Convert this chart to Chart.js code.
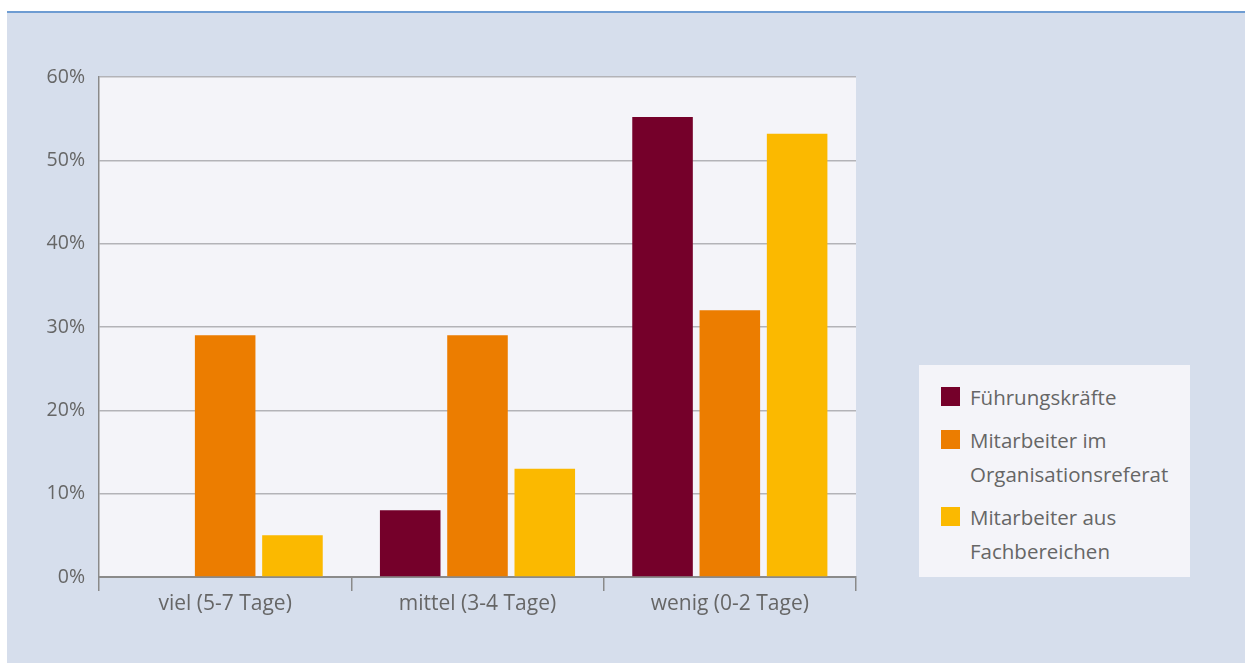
<!DOCTYPE html>
<html>
<head>
<meta charset="utf-8">
<script src="https://cdn.jsdelivr.net/npm/chart.js@4/dist/chart.umd.min.js"></script>
<style>
  body { margin: 0; background: #fff; width: 1245px; height: 663px; overflow: hidden; font-family: "Open Sans", sans-serif; }
  #panel { position: absolute; left: 7px; top: 11px; right: 0; bottom: 0; background: #d6deec; border-top: 2px solid #6e9cd2; }
  #chart { position: absolute; left: 0; top: 0; }
  #legend { position: absolute; left: 919px; top: 365px; width: 271px; height: 212px; background: #f4f4f9; box-sizing: border-box; padding: 15px 0 0 22px; }
  .item { position: relative; padding-left: 29px; margin-bottom: 9px; color: #666; font-size: 20.5px; line-height: 34px; }
  .item span.box { position: absolute; left: 0; top: 7px; width: 19px; height: 19px; }
</style>
</head>
<body>
<div id="panel"></div>
<canvas id="chart" width="1245" height="663"></canvas>
<div id="legend"></div>
<script>
const categories = ['viel (5-7 Tage)', 'mittel (3-4 Tage)', 'wenig (0-2 Tage)'];
const seriesLabels = [['Führungskräfte'], ['Mitarbeiter im', 'Organisationsreferat'], ['Mitarbeiter aus', 'Fachbereichen']];
const fuehrung = [0, 8, 55.2];
const orgaReferat = [29, 29, 32];
const fachbereiche = [5, 13, 53.2];
const colors = ['#75002a', '#ec7d00', '#fbb900'];
const yTicks = [0, 10, 20, 30, 40, 50, 60];

const values = [fuehrung, orgaReferat, fachbereiche];

const plotBg = {
  id: 'plotBg',
  beforeDraw(chart) {
    const { ctx, chartArea: a } = chart;
    ctx.save();
    ctx.fillStyle = '#f4f4f9';
    ctx.fillRect(a.left, a.top, a.right - a.left, a.bottom - a.top);
    ctx.restore();
  }
};

new Chart(document.getElementById('chart'), {
  type: 'bar',
  data: {
    labels: categories,
    datasets: values.map((v, i) => ({
      label: seriesLabels[i].join(' '),
      data: v,
      backgroundColor: colors[i],
      categoryPercentage: 0.8,
      barPercentage: 0.9
    }))
  },
  options: {
    responsive: false,
    animation: false,
    layout: { padding: { left: 0, top: 77, right: 389, bottom: 0 } },
    plugins: { legend: { display: false }, tooltip: { enabled: false } },
    scales: {
      x: {
        grid: { offset: true, drawOnChartArea: false, drawTicks: true, tickLength: 14, color: '#8a8a8a', lineWidth: 1.5 },
        border: { color: '#8a8a8a', width: 2 },
        ticks: { color: '#666', font: { family: 'Open Sans', size: 21 }, padding: 0 },
        afterFit(scale) { scale.height = 86; }
      },
      y: {
        min: 0,
        max: 60,
        afterBuildTicks(scale) { scale.ticks = yTicks.map(v => ({ value: v })); },
        grid: { color: '#b3b3b8', lineWidth: 1.5, drawTicks: false },
        border: { color: '#8a8a8a', width: 1.5 },
        ticks: { color: '#666', font: { family: 'Open Sans', size: 19.5 }, padding: 14, callback: v => v + '%' },
        afterFit(scale) { scale.width = 99; }
      }
    }
  },
  plugins: [plotBg]
});

const legend = document.getElementById('legend');
seriesLabels.forEach((lines, i) => {
  const d = document.createElement('div');
  d.className = 'item';
  d.innerHTML = '<span class="box" style="background:' + colors[i] + '"></span>' + lines.join('<br>');
  legend.appendChild(d);
});
</script>
</body>
</html>
